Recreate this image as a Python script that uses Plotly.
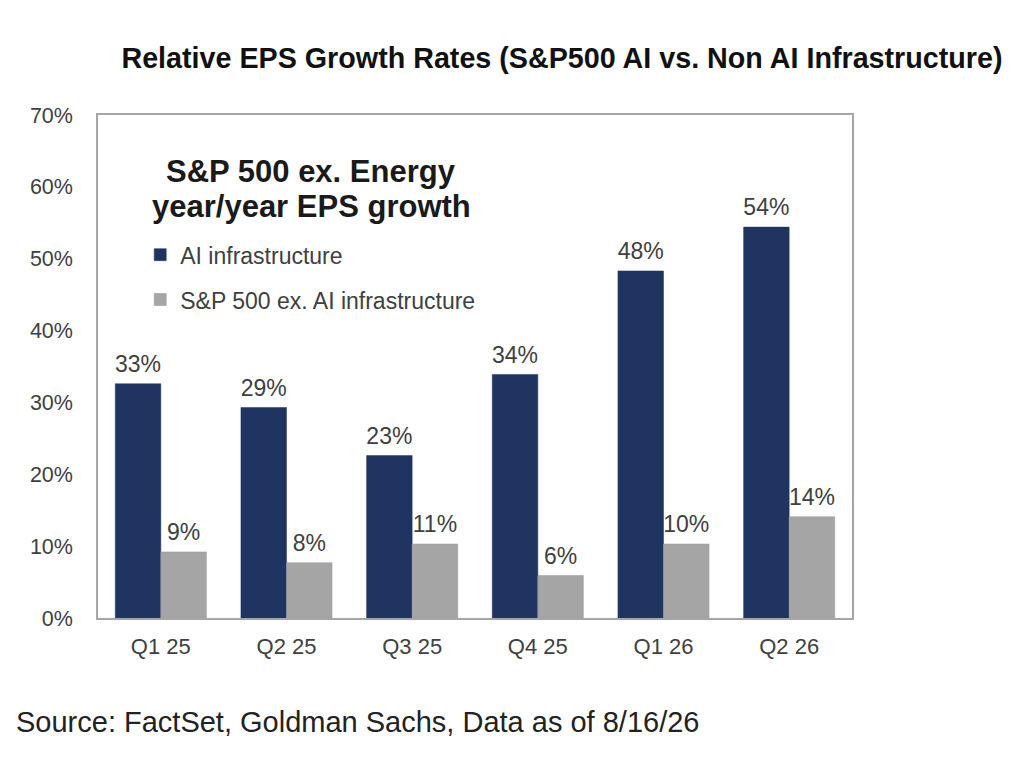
import plotly.graph_objects as go

categories = ["Q1 25", "Q2 25", "Q3 25", "Q4 25", "Q1 26", "Q2 26"]
ai_infra = [32.6, 29.3, 22.6, 33.9, 48.3, 54.4]
ai_labels = ["33%", "29%", "23%", "34%", "48%", "54%"]
ex_ai = [9.2, 7.7, 10.3, 5.9, 10.3, 14.1]
ex_labels = ["9%", "8%", "11%", "6%", "10%", "14%"]
y_ticks = [0, 10, 20, 30, 40, 50, 60, 70]
y_tick_labels = [f"{v}%" for v in y_ticks]

NAVY = "#1f3461"
GRAY = "#a5a5a5"
FONT = "Liberation Sans, Arial, sans-serif"
LABEL_FONT = dict(family=FONT, size=23, color="#404040")

fig = go.Figure()
fig.add_trace(go.Bar(
    x=categories, y=ai_infra, name="AI infrastructure",
    marker=dict(color=NAVY, line=dict(color=NAVY, width=0.5)),
    legendgroup="a", offsetgroup="a",
))
fig.add_trace(go.Bar(
    x=categories, y=ex_ai, name="S&P 500 ex. AI infrastructure",
    marker=dict(color=GRAY, line=dict(color="#999999", width=0.5)),
    legendgroup="b", offsetgroup="b",
))
# value labels (scatter text, grouped like the bars)
fig.add_trace(go.Scatter(
    x=categories, y=ai_infra, mode="markers+text", text=ai_labels,
    textposition="top center", textfont=LABEL_FONT,
    marker=dict(size=8, opacity=0), showlegend=False, hoverinfo="skip",
    offsetgroup="a", cliponaxis=False,
))
fig.add_trace(go.Scatter(
    x=categories, y=ex_ai, mode="markers+text", text=ex_labels,
    textposition="top center", textfont=LABEL_FONT,
    marker=dict(size=8, opacity=0), showlegend=False, hoverinfo="skip",
    offsetgroup="b", cliponaxis=False,
))

fig.update_layout(
    width=1024, height=776,
    margin=dict(l=90, r=180, t=107, b=166),
    paper_bgcolor="white", plot_bgcolor="white",
    barmode="group", bargap=0.275, bargroupgap=0,
    scattermode="group", scattergap=0.275,
    font=dict(family=FONT, color="#404040"),
    title=dict(
        text="<b>Relative EPS Growth Rates (S&P500 AI vs. Non AI Infrastructure)</b>",
        x=0.541, xanchor="center", y=0.9356, yanchor="middle",
        font=dict(family=FONT, size=28.7, color="#111111"),
    ),
    showlegend=True,
    legend=dict(
        x=0.056, y=0.765, xanchor="left", yanchor="top",
        bgcolor="rgba(0,0,0,0)",
        font=dict(family=FONT, size=23, color="#404040"),
        traceorder="grouped", tracegroupgap=12,
        itemwidth=30,
    ),
    xaxis=dict(
        showline=True, linecolor="#a6a6a6", linewidth=1.5, mirror=True,
        ticks="", showgrid=False,
        tickfont=dict(family=FONT, size=22, color="#404040"),
        ticklabelstandoff=8,
    ),
    yaxis=dict(
        range=[0, 70], tickvals=y_ticks, ticktext=y_tick_labels,
        showline=True, linecolor="#a6a6a6", linewidth=1.5, mirror=True,
        ticks="", showgrid=False, zeroline=False,
        tickfont=dict(family=FONT, size=21.5, color="#404040"),
        ticklabelstandoff=19,
    ),
    annotations=[
        dict(
            text="<b>S&P 500 ex. Energy</b>",
            xref="paper", yref="paper", x=0.2825, y=0.8867, xanchor="center", yanchor="middle",
            showarrow=False, align="center",
            font=dict(family=FONT, size=31, color="#1a1a1a"),
        ),
        dict(
            text="<b>year/year EPS growth</b>",
            xref="paper", yref="paper", x=0.2825, y=0.8171, xanchor="center", yanchor="middle",
            showarrow=False, align="center",
            font=dict(family=FONT, size=31, color="#1a1a1a"),
        ),
        dict(
            text="Source: FactSet, Goldman Sachs, Data as of 8/16/26",
            xref="paper", yref="paper", x=(6 - 90) / 754, y=-104 / 503,
            xanchor="left", yanchor="middle", showarrow=False,
            font=dict(family=FONT, size=29, color="#222222"),
        ),
    ],
)

fig.write_html("out.html")
